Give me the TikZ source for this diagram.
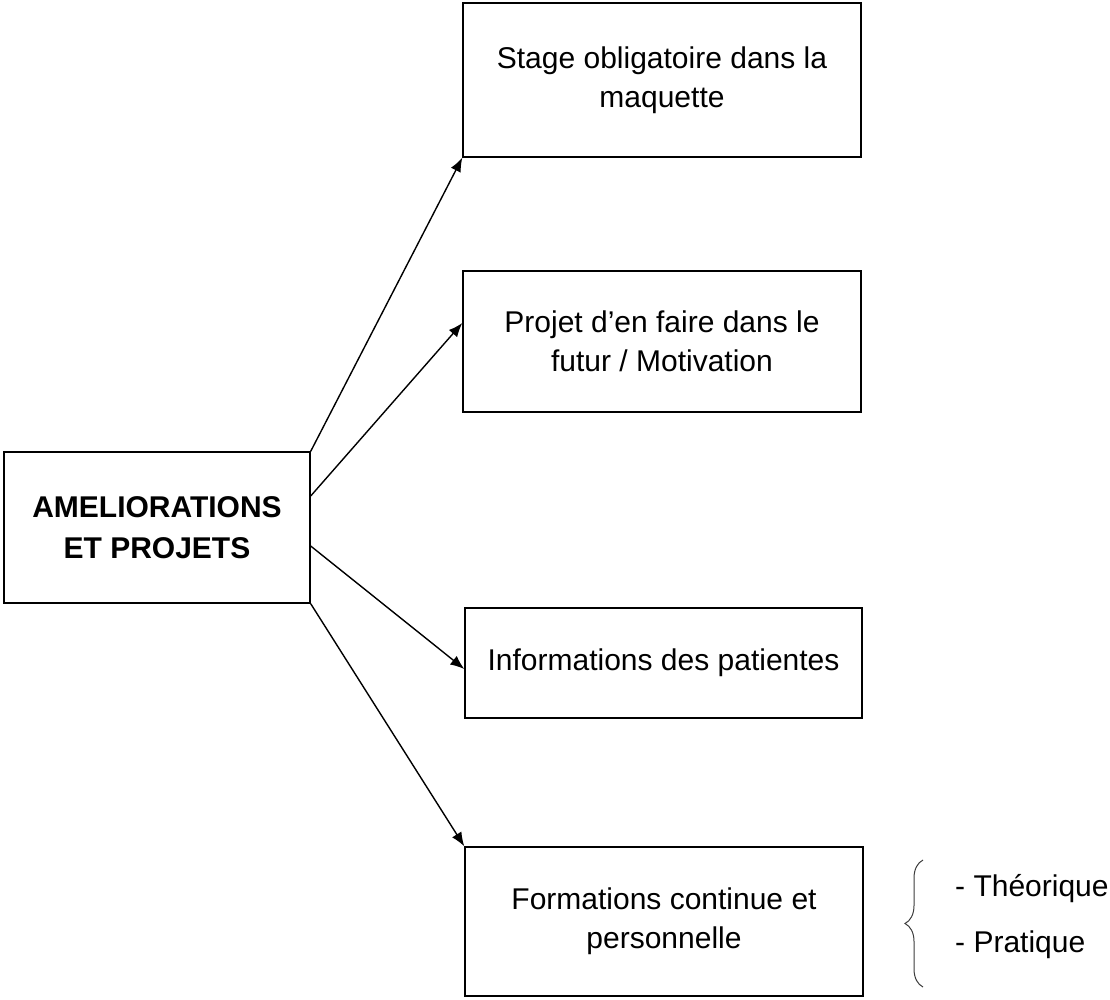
\documentclass[tikz,border=0pt]{standalone}
\usepackage{fontspec}
\setmainfont{Liberation Sans}
\usetikzlibrary{arrows.meta,decorations.pathreplacing}

\begin{document}
\begin{tikzpicture}[x=1pt,y=-1pt,
  box/.style={draw,line width=1.4pt,inner sep=0pt,align=center,font=\fontsize{30}{39}\selectfont},
  link/.style={line width=1.4pt,-{Latex[length=14pt,width=11pt]}}]
\useasboundingbox (0,0) rectangle (1110,999);
%Shape: Rectangle [main]
\node [box,minimum width=306pt,minimum height=151pt,font=\fontsize{30}{41}\selectfont\bfseries] (main) at (157,527.5) {AMELIORATIONS\\ET PROJETS};
%Shape: Rectangle [stage]
\node [box,minimum width=398pt,minimum height=154pt] (stage) at (662,80) {Stage obligatoire dans la\\maquette};
%Shape: Rectangle [projet]
\node [box,minimum width=398pt,minimum height=141pt] (projet) at (662,341.5) {Projet d’en faire dans le\\futur / Motivation};
%Shape: Rectangle [info]
\node [box,minimum width=397pt,minimum height=110pt] (info) at (663.5,663) {Informations des patientes};
%Shape: Rectangle [form]
\node [box,minimum width=398pt,minimum height=149pt] (form) at (664,921.5) {Formations continue et\\personnelle};
%Straight Lines
\draw [link] (main.north east) -- (stage.south west);
\draw [link] ([yshift=31.5pt]main.east) -- ([yshift=18.5pt]projet.west);
\draw [link] ([yshift=-18.5pt]main.east) -- ([yshift=-6pt]info.west);
\draw [link] (main.south east) -- (form.north west);
%Shape: Brace
\coordinate (bracebot) at (923,987);
\coordinate (bracetop) at (923,860);
\draw [decorate,decoration={brace,amplitude=18pt},line width=1pt,color={rgb,255:red,60;green,60;blue,60}] (bracebot) -- (bracetop);
% Text Node
\node [anchor=west,inner sep=0pt,font=\fontsize{30}{39}\selectfont] (theo) at (955,889) {- Théorique};
% Text Node
\node [anchor=west,inner sep=0pt,font=\fontsize{30}{39}\selectfont] (prat) at (955,945) {- Pratique};
\end{tikzpicture}
\end{document}
